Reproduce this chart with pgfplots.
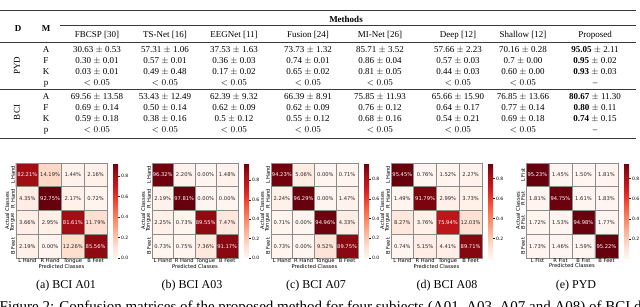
\documentclass[border=0pt]{standalone}
\usepackage{pgfplots}
\pgfplotsset{compat=1.18}
\usepackage{pgfplotstable}
\usepackage{fontspec}
\setmainfont{Liberation Serif}
\newfontfamily\dejavu{DejaVu Sans}
\definecolor{dk}{HTML}{262626}
\definecolor{rulec}{HTML}{3a3a3a}
\definecolor{gridc}{HTML}{8c8c8c}
\newcommand\hm{\dejavu\fontsize{5.2}{6}\selectfont}
\newcommand\cbf{\dejavu\fontsize{4.5}{5}\selectfont}
\newcommand\tf{\fontsize{9}{11}\selectfont}
\newcommand\capf{\fontsize{12}{14}\selectfont}

\pgfplotsset{colormap={reds}{rgb255=(255,245,240) rgb255=(254,224,210) rgb255=(252,187,161) rgb255=(252,146,114) rgb255=(251,106,74) rgb255=(239,59,44) rgb255=(203,24,29) rgb255=(165,15,21) rgb255=(103,0,13)}}

% c = 1: white annotation (dark cell), c = 0: dark annotation
\pgfplotstableread{
x y v c
0 0 82.21 1
1 0 14.19 0
2 0 1.44 0
3 0 2.16 0
0 1 4.35 0
1 1 92.75 1
2 1 2.17 0
3 1 0.72 0
0 2 3.66 0
1 2 2.95 0
2 2 81.61 1
3 2 11.79 0
0 3 2.19 0
1 3 0.00 0
2 3 12.26 0
3 3 85.56 1
}\tabA
\pgfplotstableread{
x y v c
0 0 96.32 1
1 0 2.20 0
2 0 0.00 0
3 0 1.48 0
0 1 2.19 0
1 1 97.81 1
2 1 0.00 0
3 1 0.00 0
0 2 2.25 0
1 2 0.73 0
2 2 89.55 1
3 2 7.47 0
0 3 0.73 0
1 3 0.75 0
2 3 7.36 0
3 3 91.17 1
}\tabB
\pgfplotstableread{
x y v c
0 0 94.23 1
1 0 5.06 0
2 0 0.00 0
3 0 0.71 0
0 1 2.24 0
1 1 96.29 1
2 1 0.00 0
3 1 1.47 0
0 2 0.71 0
1 2 0.00 0
2 2 94.96 1
3 2 4.33 0
0 3 0.73 0
1 3 0.00 0
2 3 9.52 0
3 3 89.75 1
}\tabC
\pgfplotstableread{
x y v c
0 0 95.45 1
1 0 0.76 0
2 0 1.52 0
3 0 2.27 0
0 1 1.49 0
1 1 91.79 1
2 1 2.99 0
3 1 3.73 0
0 2 8.27 0
1 2 3.76 0
2 2 75.94 1
3 2 12.03 0
0 3 0.74 0
1 3 5.15 0
2 3 4.41 0
3 3 89.71 1
}\tabD
\pgfplotstableread{
x y v c
0 0 95.23 1
1 0 1.45 0
2 0 1.50 0
3 0 1.81 0
0 1 1.81 0
1 1 94.75 1
2 1 1.61 0
3 1 1.83 0
0 2 1.72 0
1 2 1.53 0
2 2 94.98 1
3 2 1.77 0
0 3 1.73 0
1 3 1.46 0
2 3 1.59 0
3 3 95.22 1
}\tabE

\pgfplotsset{
 cmstyle/.style={
  scale only axis, height=95pt,
  xmin=-0.5, xmax=3.5, ymin=-0.5, ymax=3.5, y dir=reverse,
  xtick={0,1,2,3}, ytick={0,1,2,3},
  minor xtick={-0.5,0.5,1.5,2.5,3.5}, minor ytick={-0.5,0.5,1.5,2.5,3.5},
  xminorgrids, yminorgrids,
  minor grid style={draw=gridc, line width=0.8pt},
  axis line style={draw=gridc, line width=0.8pt},
  axis on top,
  major tick length=0pt, minor tick length=0pt,
  xticklabel style={font=\hm, inner sep=0.8pt},
  yticklabel style={font=\hm, rotate=90, anchor=south, inner sep=0.8pt},
  xlabel={Predicted Classes}, ylabel={Actual Classes},
  xlabel style={font=\hm, inner sep=0pt},
  ylabel style={font=\hm, inner sep=0pt},
  colormap name=reds,
  colorbar,
  colorbar style={
    at={(parent axis.north east)}, anchor=north west, xshift=-2.5pt,
    scale only axis, width=5pt, height=95pt,
    y dir=normal,
    axis line style={draw=none},
    ytick={0,0.2,0.4,0.6,0.8},
    ytick pos=right, yticklabel pos=right,
    yticklabel style={font=\cbf, inner sep=1pt, /pgf/number format/fixed, /pgf/number format/fixed zerofill, /pgf/number format/precision=1, /pgf/number format/assume math mode=true},
    major tick length=1.8pt, tick align=outside,
    every tick/.style={draw=dk, line width=0.4pt},
  },
 },
 annot/.style 2 args={only marks, mark=*, mark size=0pt, mark options={draw=none, fill=none},
   point meta=explicit symbolic,
   restrict expr to domain={\thisrow{c}}{#2},
   nodes near coords={\pgfplotspointmeta\%},
   every node near coord/.append style={font=\hm, text=#1, anchor=center, inner sep=0pt}},
}

\newcommand\cm[6]{%
\begin{axis}[cmstyle, at={(#1pt,48pt)}, anchor=south west, width=#2pt, point meta min=#4, point meta max=#5, xticklabels={#6}, yticklabels={#6}]
\addplot[matrix plot*, mesh/cols=4, point meta={\thisrow{v}/100}] table[x=x,y=y] {#3};
\addplot[annot={white}{0.5:1.5}] table[x=x,y=y,meta=v] {#3};
\addplot[annot={dk}{-0.5:0.5}] table[x=x,y=y,meta=v] {#3};
\end{axis}}

\newcommand\trow[9]{%
 \node[tn] at (97pt,#1pt) {#2};
 \node[tn] at (165pt,#1pt) {#3};
 \node[tn] at (234pt,#1pt) {#4};
 \node[tn] at (308pt,#1pt) {#5};
 \node[tn] at (380pt,#1pt) {#6};
 \node[tn] at (458pt,#1pt) {#7};
 \node[tn] at (523pt,#1pt) {#8};
 \node[tn] at (595pt,#1pt) {#9};}

\begin{document}
\begin{tikzpicture}[tn/.style={font=\tf, anchor=base, inner sep=0pt}]
\path[use as bounding box] (0pt,0pt) rectangle (640pt,306pt);
\clip (0pt,0pt) rectangle (640pt,306pt);
% table rules
\draw[rulec, line width=1pt] (0pt,295pt) -- (636pt,295pt);
\draw[rulec, line width=0.5pt] (60pt,280.5pt) -- (636pt,280.5pt);
\draw[rulec, line width=0.6pt] (0pt,263.5pt) -- (636pt,263.5pt);
\draw[rulec, line width=0.6pt] (0pt,217pt) -- (636pt,217pt);
\draw[rulec, line width=1.2pt] (0pt,167.5pt) -- (636pt,167.5pt);
% header
\node[tn, font=\tf\bfseries] at (18pt,274pt) {D};
\node[tn, font=\tf\bfseries] at (46pt,274pt) {M};
\node[tn, font=\tf\bfseries] at (346pt,283pt) {Methods};
\trow{268}{FBCSP [30]}{TS-Net [16]}{EEGNet [11]}{Fusion [24]}{MI-Net [26]}{Deep [12]}{Shallow [12]}{Proposed}
% PYD
\node[font=\tf, rotate=90, inner sep=0pt] at (17pt,240.5pt) {PYD};
\node[tn] at (46pt,254pt) {A};
\node[tn] at (46pt,243pt) {F};
\node[tn] at (46pt,232pt) {K};
\node[tn] at (46pt,221pt) {p};
\trow{254}{30.63 $\pm$ 0.53}{57.31 $\pm$ 1.06}{37.53 $\pm$ 1.63}{73.73 $\pm$ 1.32}{85.71 $\pm$ 3.52}{57.66 $\pm$ 2.23}{70.16 $\pm$ 0.28}{\textbf{95.05} $\pm$ 2.11}
\trow{243}{0.30 $\pm$ 0.01}{0.57 $\pm$ 0.01}{0.36 $\pm$ 0.03}{0.74 $\pm$ 0.01}{0.86 $\pm$ 0.04}{0.57 $\pm$ 0.03}{0.7 $\pm$ 0.00}{\textbf{0.95} $\pm$ 0.02}
\trow{232}{0.03 $\pm$ 0.01}{0.49 $\pm$ 0.48}{0.17 $\pm$ 0.02}{0.65 $\pm$ 0.02}{0.81 $\pm$ 0.05}{0.44 $\pm$ 0.03}{0.60 $\pm$ 0.00}{\textbf{0.93} $\pm$ 0.03}
\trow{221}{$<0.05$}{$<0.05$}{$<0.05$}{$<0.05$}{$<0.05$}{$<0.05$}{$<0.05$}{--}
% BCI
\node[font=\tf, rotate=90, inner sep=0pt] at (17pt,193.5pt) {BCI};
\node[tn] at (46pt,207pt) {A};
\node[tn] at (46pt,196pt) {F};
\node[tn] at (46pt,185pt) {K};
\node[tn] at (46pt,174pt) {p};
\trow{207}{69.56 $\pm$ 13.58}{53.43 $\pm$ 12.49}{62.39 $\pm$ 9.32}{66.39 $\pm$ 8.91}{75.85 $\pm$ 11.93}{65.66 $\pm$ 15.90}{76.85 $\pm$ 13.66}{\textbf{80.67} $\pm$ 11.30}
\trow{196}{0.69 $\pm$ 0.14}{0.50 $\pm$ 0.14}{0.62 $\pm$ 0.09}{0.62 $\pm$ 0.09}{0.76 $\pm$ 0.12}{0.64 $\pm$ 0.17}{0.77 $\pm$ 0.14}{\textbf{0.80} $\pm$ 0.11}
\trow{185}{0.59 $\pm$ 0.18}{0.38 $\pm$ 0.16}{0.5 $\pm$ 0.12}{0.55 $\pm$ 0.12}{0.68 $\pm$ 0.16}{0.54 $\pm$ 0.21}{0.69 $\pm$ 0.18}{\textbf{0.74} $\pm$ 0.15}
\trow{174}{$<0.05$}{$<0.05$}{$<0.05$}{$<0.05$}{$<0.05$}{$<0.05$}{$<0.05$}{--}
% heatmaps
\cm{16}{91}{\tabA}{0}{0.9275}{L Hand,R Hand,Tongue,B Feet}
\cm{152}{86}{\tabB}{0}{0.9781}{L Hand,R Hand,Tongue,B Feet}
\cm{271}{87}{\tabC}{0}{0.9629}{L Hand,R Hand,Tongue,B Feet}
\cm{391}{91}{\tabD}{0.0074}{0.9545}{L Hand,R Hand,Tongue,B Feet}
\cm{526}{92}{\tabE}{0.0145}{0.9523}{L Fist,R Fist,B Fist,B Feet}
% captions
\node[font=\capf, anchor=base] at (66pt,18pt) {(a) BCI A01};
\node[font=\capf, anchor=base] at (192pt,18pt) {(b) BCI A03};
\node[font=\capf, anchor=base] at (316pt,18pt) {(c) BCI A07};
\node[font=\capf, anchor=base] at (447pt,18pt) {(d) BCI A08};
\node[font=\capf, anchor=base] at (576pt,18pt) {(e) PYD};
\node[font=\fontsize{15}{17}\selectfont, anchor=base west, inner sep=0pt] at (-0.5pt,-5pt) {Figure 2: Confusion matrices of the proposed method for four subjects (A01, A03, A07 and A08) of BCI dataset and PYD dataset.};
\end{tikzpicture}
\end{document}
